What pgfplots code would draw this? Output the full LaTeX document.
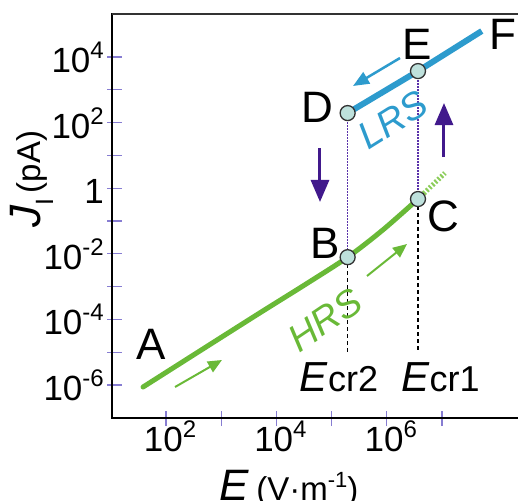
\documentclass[border=0pt]{standalone}
\usepackage{fontspec}
\setmainfont{Liberation Sans}
\usepackage{pgfplots}
\pgfplotsset{compat=1.18}
\usetikzlibrary{arrows.meta}
\definecolor{grn}{RGB}{105,185,55}
\definecolor{grnl}{RGB}{140,205,90}
\definecolor{blu}{RGB}{45,155,205}
\definecolor{pur}{RGB}{65,25,140}
\definecolor{purl}{RGB}{90,50,170}
\definecolor{tickc}{RGB}{135,125,210}
\definecolor{mk}{RGB}{190,225,220}
\newcommand{\fs}[1]{\fontsize{#1}{#1}\selectfont}
\newcommand{\tp}[1]{10\raisebox{14pt}{\fs{24}#1}}
\begin{document}
\begin{tikzpicture}
\begin{axis}[
  at={(0pt,0pt)}, anchor=south west,
  scale only axis, width=406pt, height=404pt,
  xmode=log, ymode=log,
  xmin=10.5, xmax=2.38e8, ymin=9.9e-8, ymax=2.04e5,
  axis line style={draw=none},
  xtick pos=bottom, ytick pos=left,
  xtick={1e2,1e3,1e4,1e5,1e6,1e7},
  xticklabels={\tp{2},,\tp{4},,\tp{6},},
  ytick={1e-6,1e-5,1e-4,1e-3,1e-2,1e-1,1,1e1,1e2,1e3,1e4},
  yticklabels={\tp{-6},,\tp{-4},,\tp{-2},,1,,\tp{2},,\tp{4}},
  xminorticks=false, yminorticks=false,
  tick style={tickc, line width=1.2pt},
  major tick length=15pt,
  tick align=inside,
  every x tick/.append style={yshift=-8pt},
  every y tick/.append style={xshift=-5pt},
  tick label style={font=\fs{35}, inner sep=0pt},
  xticklabel style={anchor=north, xshift=4pt, yshift=-3pt},
  yticklabel style={anchor=base east, xshift=-8pt, yshift=-15.5pt},
  clip=false,
]
% frame lines (left, bottom, top)
\draw[line width=2pt, black, line cap=rect] (rel axis cs:1,0) -- (rel axis cs:0,0) -- (rel axis cs:0,1);
\draw[line width=2pt, black!80] (rel axis cs:0,1) -- (rel axis cs:1,1);
% HRS curve
\addplot[grn, line width=5pt, line cap=round, smooth] coordinates {
  (38.3,8.7e-7) (3767,1.17e-4) (3.03e4,1.05e-3) (1.95e5,7.9e-3) (8.53e5,5.4e-2) (3.67e6,0.468)};
\addplot[grnl, line width=5pt, dash pattern=on 2pt off 2pt] coordinates {(3.67e6,0.468) (1.13e7,2.9)};
% LRS line
\addplot[blu, line width=6pt] coordinates {(1.95e5,195) (3.67e6,3715) (5.25e7,6.17e4)};
% dotted transitions
\addplot[purl, line width=1.5pt, dash pattern=on 1.5pt off 1.5pt] coordinates {(1.95e5,195) (1.95e5,7.9e-3)};
\addplot[purl, line width=1.5pt, dash pattern=on 1.5pt off 1.5pt] coordinates {(3.67e6,3715) (3.67e6,0.468)};
% black dashed drop lines
\addplot[black, line width=1.3pt, dash pattern=on 4pt off 3pt] coordinates {(1.95e5,7.9e-3) (1.95e5,9.5e-6)};
\addplot[black, line width=1.3pt, dash pattern=on 4pt off 3pt] coordinates {(3.67e6,0.468) (3.67e6,9.5e-6)};
% markers
\addplot[only marks, mark=*, mark size=7.5pt, mark options={fill=mk, draw=black!80, line width=1.3pt}] coordinates {
  (1.95e5,7.9e-3) (3.67e6,0.468) (1.95e5,195) (3.67e6,3715)};
% arrows
\draw[grn, line width=2pt, -{Triangle[length=14pt,width=12pt]}] (rel axis cs:0.1552,0.0767) -- (rel axis cs:0.2709,0.1436);
\draw[grn, line width=2pt, -{Triangle[length=14pt,width=12pt]}] (rel axis cs:0.6281,0.3515) -- (rel axis cs:0.7266,0.4307);
\draw[blu, line width=2.5pt, -{Triangle[length=16pt,width=13pt]}] (rel axis cs:0.7094,0.8911) -- (rel axis cs:0.5936,0.8218);
\draw[pur, line width=3pt, -{Triangle[length=22pt,width=18pt]}] (rel axis cs:0.5123,0.6683) -- (rel axis cs:0.5123,0.5347);
\draw[pur, line width=3pt, -{Triangle[length=22pt,width=18pt]}] (rel axis cs:0.8177,0.6460) -- (rel axis cs:0.8177,0.7797);
% point labels
\node[font=\fs{44}] at (rel axis cs:0.0961,0.1832) {A};
\node[font=\fs{44}] at (rel axis cs:0.5246,0.4332) {B};
\node[font=\fs{44}] at (rel axis cs:0.8153,0.5) {C};
\node[font=\fs{44}] at (rel axis cs:0.5049,0.7698) {D};
\node[font=\fs{44}] at (rel axis cs:0.7512,0.9257) {E};
\node[font=\fs{44}] at (rel axis cs:0.9631,0.9505) {F};
\node[blu, font=\fs{38}\itshape, rotate=32] at (rel axis cs:0.6921,0.7376) {LRS};
\node[grn, font=\fs{38}\itshape, rotate=34] at (rel axis cs:0.5246,0.2426) {HRS};
\node[anchor=base] at (rel axis cs:0.5591,0.0644) {\fs{42}\itshape E\/\upshape\fs{36}cr2};
\node[anchor=base] at (rel axis cs:0.8091,0.0644) {\fs{42}\itshape E\/\upshape\fs{36}cr1};
% axis labels
\node[anchor=base west, inner sep=0pt] at (rel axis cs:0.2635,-0.203) {\fs{44}\itshape E\/\upshape\,\fs{33}(V·m\raisebox{13pt}{\fs{22}-1})};
\node[rotate=90, anchor=base west, inner sep=0pt] at (rel axis cs:-0.1773,0.4703) {\fs{44}\itshape J\/\upshape\raisebox{-13pt}{\fs{25}I}\fs{33}\,(pA)};
\end{axis}
\pgfresetboundingbox
\path[use as bounding box] (-112pt,-82pt) rectangle (406pt,418pt);
\end{tikzpicture}
\end{document}
